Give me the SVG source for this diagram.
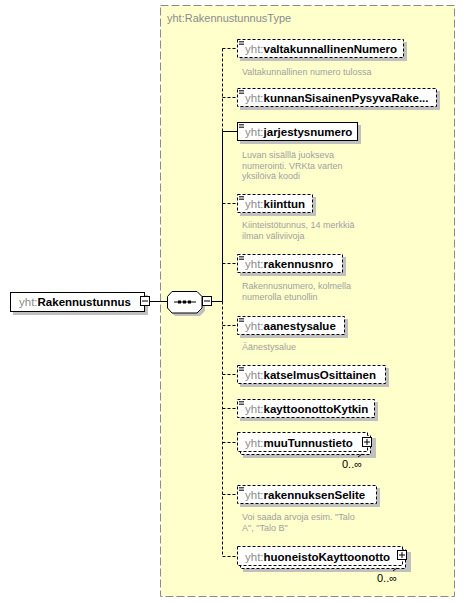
<svg xmlns="http://www.w3.org/2000/svg" width="466" height="603" viewBox="0 0 466 603">
<style>
.bg{fill:#ffffcc;stroke:#8c8c8c;stroke-width:1;stroke-dasharray:8,3}
.sh{fill:#c0c0c0}
.opt{fill:#fff;stroke:#000;stroke-width:1;stroke-dasharray:3,2}
.req{fill:#fff;stroke:#000;stroke-width:1}
.nm{font-family:"Liberation Sans",Arial,sans-serif;font-size:11.5px;font-weight:bold;fill:#000}
.px{font-weight:normal;fill:#8c8c8c}
.ttl{font-family:"Liberation Sans",Arial,sans-serif;font-size:11px;fill:#8c8c8c}
.ds{font-family:"Liberation Sans",Arial,sans-serif;font-size:9px;fill:#a0a0a0}
.cd{font-family:"Liberation Sans",Arial,sans-serif;font-size:11px;fill:#000}
.ln{stroke:#000;stroke-width:1;fill:none}
.dl{stroke:#000;stroke-width:1;fill:none;stroke-dasharray:3,2}
.ic{stroke:#000;stroke-width:1;fill:none}
.eq{stroke:#000;stroke-width:0.7;fill:none}
</style>
<rect class="bg" x="160.5" y="5.5" width="294" height="591"/>
<text class="ttl" x="167" y="22">yht:RakennustunnusType</text>

<g id="connectors">
<line class="ln" x1="150" y1="301.5" x2="167" y2="301.5"/>
<line class="ln" x1="212" y1="301.5" x2="222.5" y2="301.5"/>
<line class="dl" x1="222.5" y1="48.5" x2="222.5" y2="131.5"/>
<line class="ln" x1="222.5" y1="131.5" x2="222.5" y2="301.5"/>
<line class="dl" x1="222.5" y1="301.5" x2="222.5" y2="556.5"/>
<line class="dl" x1="222.5" y1="48.5" x2="237" y2="48.5"/>
<line class="dl" x1="222.5" y1="97.5" x2="237" y2="97.5"/>
<line class="ln" x1="222.5" y1="131.5" x2="237" y2="131.5"/>
<line class="dl" x1="222.5" y1="203.5" x2="237" y2="203.5"/>
<line class="dl" x1="222.5" y1="263.5" x2="237" y2="263.5"/>
<line class="dl" x1="222.5" y1="325.5" x2="237" y2="325.5"/>
<line class="dl" x1="222.5" y1="374.5" x2="237" y2="374.5"/>
<line class="dl" x1="222.5" y1="408.5" x2="237" y2="408.5"/>
<line class="dl" x1="222.5" y1="442.5" x2="237" y2="442.5"/>
<line class="dl" x1="222.5" y1="494.5" x2="237" y2="494.5"/>
<line class="dl" x1="222.5" y1="556.5" x2="237" y2="556.5"/>
</g>

<g id="root">
<rect class="sh" x="13" y="295" width="135" height="20"/>
<rect class="req" x="10.5" y="292.5" width="134" height="19"/>
<text class="nm" x="19" y="306"><tspan class="px">yht:</tspan>Rakennustunnus</text>
<rect class="req" x="140.5" y="296.5" width="9" height="9"/>
<line class="ic" x1="142" y1="301" x2="148" y2="301"/>
</g>

<g id="sequence">
<polygon class="sh" points="175,294 200,294 205,299 205,311 200,316 175,316 170,311 170,299"/>
<polygon class="req" points="172,291.5 197,291.5 202,296.5 202,308 197,313 172,313 167.5,308 167.5,296.5"/>
<line class="ic" x1="174" y1="302" x2="196" y2="302"/>
<rect x="178" y="300.5" width="3" height="3" fill="#000"/>
<rect x="183" y="300.5" width="3" height="3" fill="#000"/>
<rect x="188" y="300.5" width="3" height="3" fill="#000"/>
<rect class="req" x="202.5" y="296.5" width="9" height="9"/>
<line class="ic" x1="204" y1="301" x2="210" y2="301"/>
</g>

<g id="valtakunnallinenNumero">
<rect class="sh" x="240" y="42" width="167" height="19"/>
<rect class="opt" x="237.5" y="39.5" width="166" height="18"/>
<path class="eq" d="M239 41.5h5M239 43h5M239 44.5h5"/>
<text class="nm" x="245" y="53"><tspan class="px">yht:</tspan>valtakunnallinenNumero</text>
<text class="ds" x="242" y="75">Valtakunnallinen numero tulossa</text>
</g>

<g id="kunnanSisainenPysyvaRakennusnumero">
<rect class="sh" x="240" y="91" width="200" height="19"/>
<rect class="opt" x="237.5" y="88.5" width="199" height="18"/>
<path class="eq" d="M239 90.5h5M239 92h5M239 93.5h5"/>
<text class="nm" x="245" y="102"><tspan class="px">yht:</tspan>kunnanSisainenPysyvaRake...</text>
</g>

<g id="jarjestysnumero">
<rect class="sh" x="240" y="125" width="121" height="19"/>
<rect class="req" x="237.5" y="122.5" width="120" height="18"/>
<path class="eq" d="M239 124.5h5M239 126h5M239 127.5h5"/>
<text class="nm" x="245" y="136"><tspan class="px">yht:</tspan>jarjestysnumero</text>
<text class="ds" x="242" y="158">Luvan sisälllä juokseva</text>
<text class="ds" x="242" y="168.5">numerointi. VRKta varten</text>
<text class="ds" x="242" y="179">yksilöivä koodi</text>
</g>

<g id="kiinttun">
<rect class="sh" x="240" y="197" width="76" height="19"/>
<rect class="opt" x="237.5" y="194.5" width="75" height="18"/>
<path class="eq" d="M239 196.5h5M239 198h5M239 199.5h5"/>
<text class="nm" x="245" y="208"><tspan class="px">yht:</tspan>kiinttun</text>
<text class="ds" x="242" y="228">Kiinteistötunnus, 14 merkkiä</text>
<text class="ds" x="242" y="238.5">ilman väliviivoja</text>
</g>

<g id="rakennusnro">
<rect class="sh" x="240" y="257" width="106" height="19"/>
<rect class="opt" x="237.5" y="254.5" width="105" height="18"/>
<path class="eq" d="M239 256.5h5M239 258h5M239 259.5h5"/>
<text class="nm" x="245" y="268"><tspan class="px">yht:</tspan>rakennusnro</text>
<text class="ds" x="242" y="289">Rakennusnumero, kolmella</text>
<text class="ds" x="242" y="299.5">numerolla etunollin</text>
</g>

<g id="aanestysalue">
<rect class="sh" x="240" y="319" width="108" height="19"/>
<rect class="opt" x="237.5" y="316.5" width="107" height="18"/>
<path class="eq" d="M239 318.5h5M239 320h5M239 321.5h5"/>
<text class="nm" x="245" y="330"><tspan class="px">yht:</tspan>aanestysalue</text>
<text class="ds" x="242" y="350">Äänestysalue</text>
</g>

<g id="katselmusOsittainen">
<rect class="sh" x="240" y="368" width="149" height="19"/>
<rect class="opt" x="237.5" y="365.5" width="148" height="18"/>
<path class="eq" d="M239 367.5h5M239 369h5M239 370.5h5"/>
<text class="nm" x="245" y="379"><tspan class="px">yht:</tspan>katselmusOsittainen</text>
</g>

<g id="kayttoonottoKytkin">
<rect class="sh" x="240" y="402" width="138" height="19"/>
<rect class="opt" x="237.5" y="399.5" width="137" height="18"/>
<path class="eq" d="M239 401.5h5M239 403h5M239 404.5h5"/>
<text class="nm" x="245" y="413"><tspan class="px">yht:</tspan>kayttoonottoKytkin</text>
</g>

<g id="muuTunnustieto">
<rect class="sh" x="243" y="438" width="133" height="20"/>
<rect class="opt" x="240.5" y="435.5" width="130" height="19"/>
<rect class="opt" x="237.5" y="432.5" width="130" height="19"/>
<text class="nm" x="245" y="447"><tspan class="px">yht:</tspan>muuTunnustieto</text>
<rect class="req" x="362.5" y="437.5" width="9" height="9"/>
<path class="ic" d="M364 442h6M367 439v6"/>
<line class="ic" x1="358" y1="457" x2="362" y2="454"/>
<text class="cd" x="342" y="468">0..∞</text>
</g>

<g id="rakennuksenSelite">
<rect class="sh" x="240" y="488" width="140" height="19"/>
<rect class="opt" x="237.5" y="485.5" width="139" height="18"/>
<path class="eq" d="M239 487.5h5M239 489h5M239 490.5h5"/>
<text class="nm" x="245" y="499"><tspan class="px">yht:</tspan>rakennuksenSelite</text>
<text class="ds" x="242" y="520">Voi saada arvoja esim. "Talo</text>
<text class="ds" x="242" y="530.5">A", "Talo B"</text>
</g>

<g id="huoneistoKayttoonotto">
<rect class="sh" x="243" y="552" width="168" height="20"/>
<rect class="opt" x="240.5" y="549.5" width="165" height="19"/>
<rect class="opt" x="237.5" y="546.5" width="165" height="19"/>
<text class="nm" x="245" y="561"><tspan class="px">yht:</tspan>huoneistoKayttoonotto</text>
<rect class="req" x="397.5" y="550.5" width="9" height="9"/>
<path class="ic" d="M399 555h6M402 552v6"/>
<line class="ic" x1="393" y1="571" x2="397" y2="568"/>
<text class="cd" x="377" y="582">0..∞</text>
</g>
</svg>
